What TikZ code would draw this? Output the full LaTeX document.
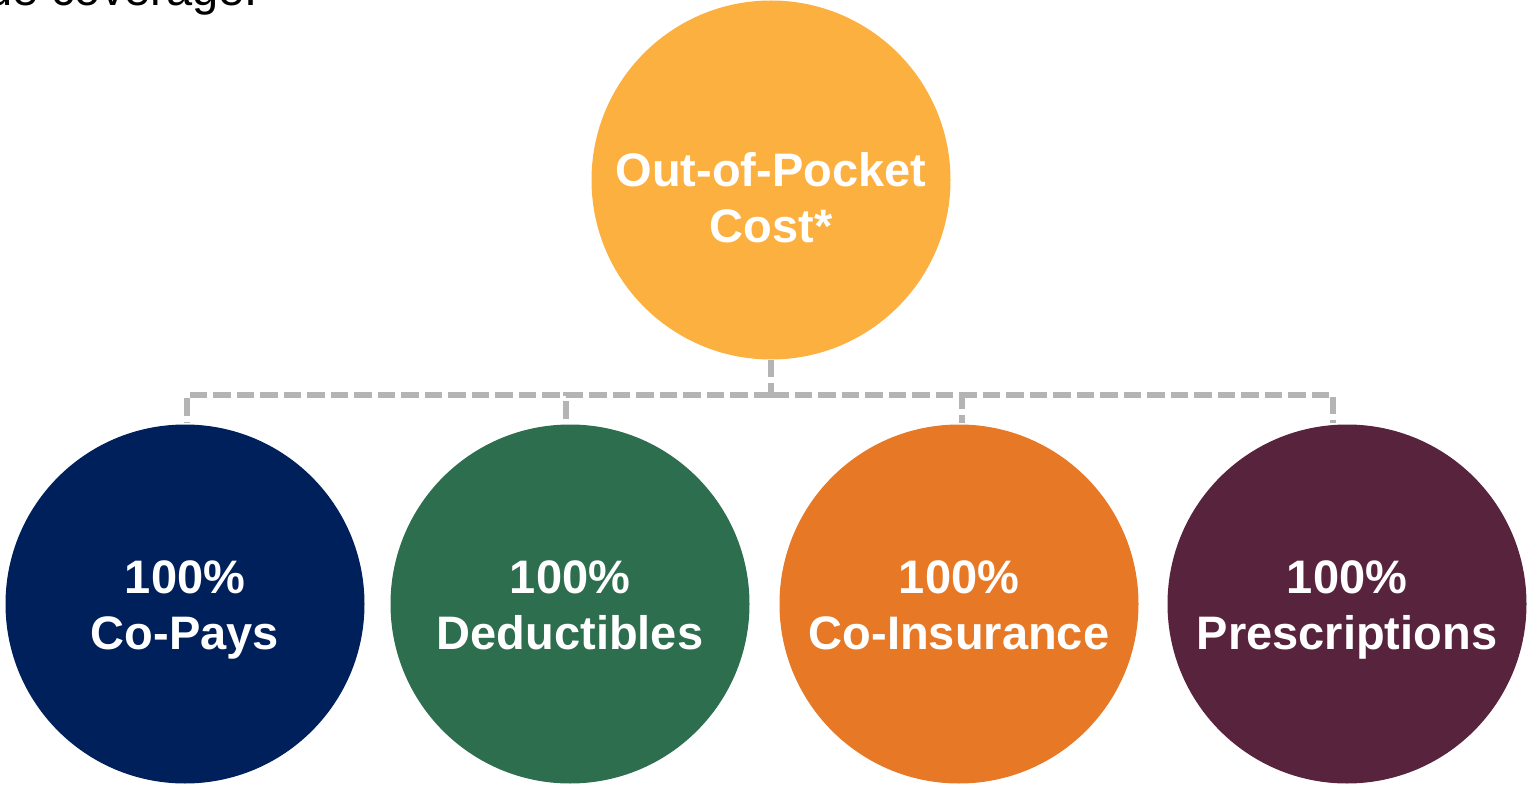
\documentclass[tikz,border=0pt]{standalone}
\usepackage{fontspec}
\setmainfont{Liberation Sans}
\definecolor{cTop}{RGB}{251,176,64}
\definecolor{cNavy}{RGB}{0,32,92}
\definecolor{cGreen}{RGB}{45,110,79}
\definecolor{cOrange}{RGB}{231,120,37}
\definecolor{cPurple}{RGB}{88,36,61}
\definecolor{cLine}{RGB}{180,180,180}
\begin{document}
\begin{tikzpicture}[x=1pt,y=-1pt,
  bubble/.style={circle,minimum size=359pt,inner sep=0pt,draw=none},
  lbl/.style={text=white,align=center,font=\bfseries\fontsize{47}{56}\selectfont,inner sep=0pt},
  conn/.style={draw=cLine,line width=5.5pt,dash pattern=on 17.5pt off 6pt}]
\useasboundingbox (0,0) rectangle (1527,786);
\clip (0,0) rectangle (1527,786);
\node[anchor=base west,inner sep=0pt,font=\fontsize{47}{56}\selectfont] (head) at (-14,6) {de coverage.};
\node[bubble,fill=cTop] (top) at (771,180) {};
\node[bubble,fill=cNavy] (c1) at (185,604) {};
\node[bubble,fill=cGreen] (c2) at (570,604) {};
\node[bubble,fill=cOrange] (c3) at (959,604) {};
\node[bubble,fill=cPurple] (c4) at (1347,604) {};
\node[lbl] (tTop) at (771,198) {Out-of-Pocket\\Cost*};
\node[lbl] (t1) at (185,610) {100\%\\Co-Pays};
\node[lbl] (t2) at (570,605) {100\%\\Deductibles};
\node[lbl] (t3) at (959,605) {100\%\\Co-Insurance};
\node[lbl] (t4) at (1347,610) {100\%\\Prescriptions};
\coordinate (j0) at (771,395);
\coordinate (d1) at (187,423);
\coordinate (d2) at (566,423);
\coordinate (d3) at (962,423);
\coordinate (d4) at (1333,423);
\draw[conn] (top.south) -- (j0);
\draw[conn] (j0) -| (d1);
\draw[conn] (j0) -| (d2);
\draw[conn] (j0) -| (d3);
\draw[conn] (j0) -| (d4);
\end{tikzpicture}
\end{document}
